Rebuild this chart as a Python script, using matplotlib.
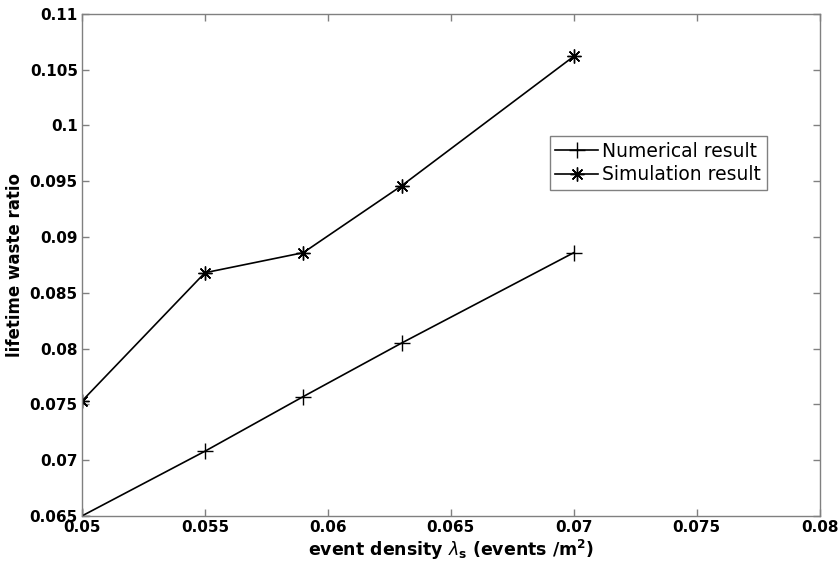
import matplotlib
matplotlib.use('Agg')
import matplotlib.pyplot as plt
from matplotlib.ticker import FuncFormatter

# event density values (x) and the two result curves
density = [0.05, 0.055, 0.059, 0.063, 0.07]
numerical = [0.065, 0.0708, 0.0757, 0.0805, 0.0886]
simulation = [0.0753, 0.0868, 0.0886, 0.0946, 0.1062]

xticks = [0.05, 0.055, 0.06, 0.065, 0.07, 0.075, 0.08]
yticks = [0.065, 0.07, 0.075, 0.08, 0.085, 0.09, 0.095, 0.1, 0.105, 0.11]

fig = plt.figure(figsize=(8.39, 5.81), dpi=100)
ax = fig.add_axes([0.0977, 0.112, 0.8793, 0.864])

ax.plot(density, numerical, color='black', lw=1.2, marker='+', ms=11, mew=1.0,
        label='Numerical result')
# matlab-like asterisk: 8-armed star made of lines
ax.plot(density, simulation, color='black', lw=1.2, marker=(8, 2, 0), ms=10, mew=1.0,
        label='Simulation result')

ax.set_xlim(0.05, 0.08)
ax.set_ylim(0.065, 0.11)
ax.set_xticks(xticks)
ax.set_yticks(yticks)
fmt = FuncFormatter(lambda v, p: '%g' % round(v, 4))
ax.xaxis.set_major_formatter(fmt)
ax.yaxis.set_major_formatter(fmt)

# matlab style box: gray frame, ticks inside on all four sides
for s in ax.spines.values():
    s.set_color('#808080')
    s.set_linewidth(1.0)
ax.tick_params(direction='in', length=5, width=1.0, color='#808080',
               top=True, right=True, pad=3)
for lab in ax.get_xticklabels() + ax.get_yticklabels():
    lab.set_fontweight('bold')
    lab.set_fontsize(11)

ax.set_xlabel(r'event density $\lambda_{\mathbf{s}}$ (events /m$^{\mathbf{2}}$)',
              fontsize=12.5, fontweight='bold', labelpad=2)
ax.set_ylabel('lifetime waste ratio', fontsize=12, fontweight='bold', labelpad=4)

leg = ax.legend(loc='upper left', bbox_to_anchor=(0.634, 0.757), fontsize=13.5,
                fancybox=False, framealpha=1, edgecolor='#808080',
                handlelength=2.3, handletextpad=0.2, borderpad=0.3,
                labelspacing=0.25, borderaxespad=0)
leg.get_frame().set_linewidth(1.0)

fig.savefig('out.png', dpi=100)
